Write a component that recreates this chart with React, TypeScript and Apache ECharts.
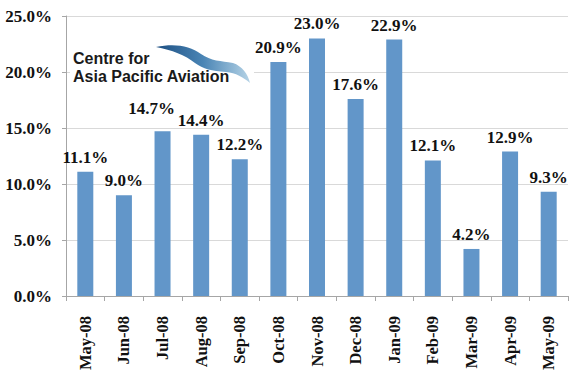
import React, { useEffect, useRef } from "react";
import * as echarts from "echarts";

const categories = ["May-08", "Jun-08", "Jul-08", "Aug-08", "Sep-08", "Oct-08", "Nov-08", "Dec-08", "Jan-09", "Feb-09", "Mar-09", "Apr-09", "May-09"];
const values = [11.1, 9.0, 14.7, 14.4, 12.2, 20.9, 23.0, 17.6, 22.9, 12.1, 4.2, 12.9, 9.3];
const logoLines = ["Centre for", "Asia Pacific Aviation"];

const swooshPath =
  "M156,47 C175,43 190,46 201,54 C211,61 221,61 233,63 C242,66 248,74 250,83 C243,77 236,73 226,72 C212,71 203,69 195,63 C185,55 172,50 156,47 Z";

echarts.graphic.registerShape("swoosh", echarts.graphic.extendPath(swooshPath, {}));

const serif = "Liberation Serif";

export default function App() {
  const ref = useRef<HTMLDivElement>(null);
  useEffect(() => {
    if (!ref.current) return;
    const chart = echarts.init(ref.current, undefined, { renderer: "svg" });
    const barData = values.map((v, i) =>
      i === 2 ? { value: v, label: { offset: [-11, -8] } } : { value: v }
    );
    chart.setOption({
      animation: false,
      backgroundColor: "#ffffff",
      grid: { left: 66, right: 9, top: 16, bottom: 85, containLabel: false },
      xAxis: {
        type: "category",
        data: categories,
        axisLine: { lineStyle: { color: "#a6a6a6" } },
        axisTick: { show: true, length: 5, lineStyle: { color: "#a6a6a6" } },
        axisLabel: {
          rotate: 90,
          margin: 20,
          fontFamily: serif,
          fontWeight: "bold",
          fontSize: 16.5,
          color: "#111",
        },
      },
      yAxis: {
        type: "value",
        min: 0,
        max: 25,
        interval: 5,
        axisLine: { show: true, lineStyle: { color: "#a6a6a6" } },
        axisTick: { show: true, length: 4, lineStyle: { color: "#a6a6a6" } },
        splitLine: { lineStyle: { color: "#d9d9d9" } },
        axisLabel: {
          margin: 14,
          fontFamily: serif,
          fontWeight: "bold",
          fontSize: 17,
          color: "#111",
          formatter: (v: number) => v.toFixed(1) + "%",
        },
      },
      series: [
        {
          type: "bar",
          data: barData,
          barWidth: 16,
          itemStyle: { color: "#6296c9" },
          label: {
            show: true,
            position: "top",
            distance: 6,
            fontFamily: serif,
            fontWeight: "bold",
            fontSize: 17,
            color: "#111",
            formatter: (p: any) => Number(p.value).toFixed(1) + "%",
          },
        },
      ],
      graphic: [
        {
          type: "rect",
          shape: { x: 70, y: 40, width: 184, height: 48 },
          style: { fill: "#ffffff" },
          z: 10,
        },
        {
          type: "swoosh",
          x: 0,
          y: 0,
          z: 11,
          style: {
            fill: new echarts.graphic.LinearGradient(0, 0, 1, 0, [
              { offset: 0, color: "#1d4f82" },
              { offset: 0.5, color: "#4a85b5" },
              { offset: 1, color: "#b5d3e6" },
            ]),
          },
        },
        {
          type: "text",
          x: 73,
          y: 50,
          z: 11,
          style: {
            text: logoLines[0],
            fontFamily: "Liberation Sans",
            fontWeight: "bold",
            fontSize: 16,
            fill: "#1a1a1a",
          },
        },
        {
          type: "text",
          x: 73,
          y: 68,
          z: 11,
          style: {
            text: logoLines[1],
            fontFamily: "Liberation Sans",
            fontWeight: "bold",
            fontSize: 16,
            fill: "#1a1a1a",
          },
        },
      ],
    });
    return () => chart.dispose();
  }, []);
  return <div ref={ref} style={{ width: 577, height: 381, position: "absolute", left: 0, top: 0 }} />;
}
